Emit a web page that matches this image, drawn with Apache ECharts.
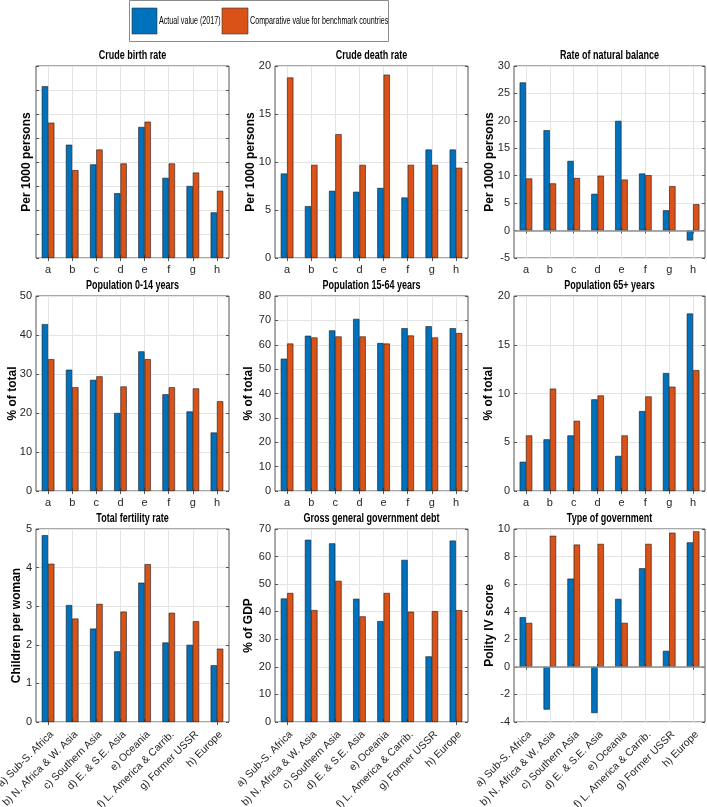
<!DOCTYPE html>
<html>
<head>
<meta charset="utf-8">
<script src="https://cdn.jsdelivr.net/npm/echarts@6/dist/echarts.min.js"></script>
<style>html,body{margin:0;padding:0;background:#fff;}#chart{width:707px;height:807px;}</style>
</head>
<body>
<div id="chart"></div>
<script>
// ---- Data ----
const shortCategories = ['a','b','c','d','e','f','g','h'];
const longCategories = ['a) Sub-S. Africa','b) N. Africa & W. Asia','c) Southern Asia','d) E. & S.E. Asia','e) Oceania','f) L. America & Carrib.','g) Former USSR','h) Europe'];
const seriesNames = ['Actual value (2017)','Comparative value for benchmark countries'];

const panelTitles = ['Crude birth rate','Crude death rate','Rate of natural balance','Population 0-14 years','Population 15-64 years','Population 65+ years','Total fertility rate','Gross general government debt','Type of government'];
const yAxisNames = ['Per 1000 persons','Per 1000 persons','Per 1000 persons','% of total','% of total','% of total','Children per woman','% of GDP','Polity IV score'];

const birthActual = [35.8,23.6,19.5,13.5,27.3,16.7,15.0,9.5];
const birthBench = [28.2,18.3,22.6,19.7,28.4,19.7,17.8,14.0];
const deathActual = [8.8,5.4,7.0,6.9,7.3,6.3,11.3,11.3];
const deathBench = [18.8,9.7,12.9,9.7,19.1,9.7,9.7,9.4];
const naturalActual = [27.0,18.3,12.7,6.7,20.0,10.4,3.7,-1.8];
const naturalBench = [9.5,8.6,9.6,10.0,9.3,10.1,8.1,4.8];
const pop014Actual = [42.8,31.1,28.5,20.0,35.8,24.8,20.4,15.0];
const pop014Bench = [33.8,26.6,29.4,26.8,33.8,26.6,26.3,23.0];
const pop1564Actual = [54.3,63.7,65.9,70.6,60.7,66.8,67.6,66.8];
const pop1564Bench = [60.5,63.0,63.4,63.4,60.5,63.8,63.0,64.8];
const pop65Actual = [3.0,5.3,5.7,9.4,3.6,8.2,12.1,18.2];
const pop65Bench = [5.7,10.5,7.2,9.8,5.7,9.7,10.7,12.4];
const fertilityActual = [4.84,3.03,2.42,1.83,3.61,2.06,2.0,1.47];
const fertilityBench = [4.10,2.68,3.06,2.86,4.09,2.83,2.61,1.90];
const debtActual = [44.8,66.1,64.8,44.7,36.6,58.8,23.8,65.8];
const debtBench = [46.8,40.6,51.2,38.3,46.8,40.0,40.2,40.6];
const govActual = [3.6,-3.1,6.4,-3.35,4.93,7.15,1.16,9.03];
const govBench = [3.19,9.51,8.87,8.92,3.19,8.92,9.73,9.83];

// y-axis ranges: [min, max, interval]
const yRanges = [[0,40,5],[0,20,5],[-5,30,5],[0,50,10],[0,80,10],[0,20,5],[0,5,1],[0,70,10],[-4,10,2]];
const showYLabels = [false,true,true,true,true,true,true,true,true];
const actualValues = [birthActual,deathActual,naturalActual,pop014Actual,pop1564Actual,pop65Actual,fertilityActual,debtActual,govActual];
const benchValues = [birthBench,deathBench,naturalBench,pop014Bench,pop1564Bench,pop65Bench,fertilityBench,debtBench,govBench];

// ---- Layout ----
const colLeft = [36,275,514], colWidth = [193,193,191];
const rowTop = [66,296,529], rowHeight = [192,195,193];
const nameGaps = [3,18,18,17,20,19,13,20,18];
const blue = '#0072BD', orange = '#D95319';
const axisColor = '#555', gridColor = '#e4e4e4', textColor = '#262626';
const sans = '"Liberation Sans", Arial, Helvetica, sans-serif';

const grid = [], xAxis = [], yAxis = [], series = [], graphics = [];
for (let i = 0; i < 9; i++) {
  const r = Math.floor(i / 3), c = i % 3;
  const left = colLeft[c], top = rowTop[r], w = colWidth[c], h = rowHeight[r];
  grid.push({left: left, top: top, width: w, height: h, show: true, borderColor: axisColor, borderWidth: 1,
    backgroundColor: 'transparent', containLabel: false, outerBoundsMode: 'none'});
  graphics.push({type: 'text', x: left + w / 2, y: top - 10, scaleX: 0.72, silent: true,
    style: {text: panelTitles[i], x: 0, y: 0, textAlign: 'center', textVerticalAlign: 'middle',
      fontSize: 12.5, fontWeight: 'bold', fontFamily: 'Liberation Sans', fill: '#000'}});
  const cats = r < 2 ? shortCategories : longCategories;
  const xLabel = r < 2
    ? {interval: 0, fontFamily: sans, fontSize: 11, color: textColor, margin: 6}
    : {interval: 0, fontFamily: sans, fontSize: 10.5, color: textColor, margin: 7, rotate: 45, verticalAlign: 'top'};
  xAxis.push({type: 'category', gridIndex: i, data: cats, position: 'bottom',
    axisLine: {show: false},
    axisTick: {show: true, inside: true, alignWithLabel: true, length: 3, lineStyle: {color: axisColor}},
    axisLabel: xLabel,
    splitLine: {show: true, alignWithLabel: true, lineStyle: {color: gridColor}}});
  xAxis.push({type: 'category', gridIndex: i, data: cats, position: 'top',
    axisLine: {show: false}, axisLabel: {show: false}, splitLine: {show: false},
    axisTick: {show: true, inside: true, alignWithLabel: true, length: 3, lineStyle: {color: axisColor}}});
  const yr = yRanges[i];
  yAxis.push({type: 'value', gridIndex: i, min: yr[0], max: yr[1], interval: yr[2], position: 'left',
    name: yAxisNames[i], nameLocation: 'middle', nameGap: nameGaps[i], nameMoveOverlap: false,
    nameTextStyle: {fontFamily: sans, fontWeight: 'bold', fontSize: 12, color: '#000'},
    axisLine: {show: false},
    axisTick: {show: true, inside: true, length: 3, lineStyle: {color: axisColor}},
    axisLabel: {show: showYLabels[i], fontFamily: sans, fontSize: 11, color: textColor, margin: 4},
    splitLine: {show: true, lineStyle: {color: gridColor}}});
  yAxis.push({type: 'value', gridIndex: i, min: yr[0], max: yr[1], interval: yr[2], position: 'right',
    axisLine: {show: false}, axisLabel: {show: false}, splitLine: {show: false},
    axisTick: {show: true, inside: true, length: 3, lineStyle: {color: axisColor}}});
  const hasNeg = yr[0] < 0;
  series.push({type: 'bar', name: seriesNames[0], xAxisIndex: 2 * i, yAxisIndex: 2 * i, data: actualValues[i],
    barWidth: 6.3, barGap: '0%',
    itemStyle: {color: blue, borderColor: '#1a1a1a', borderWidth: 0.6},
    markLine: hasNeg ? {silent: true, symbol: 'none', label: {show: false},
      lineStyle: {color: '#8f8f8f', width: 1.5, type: 'solid'}, data: [{yAxis: 0}]} : undefined});
  series.push({type: 'bar', name: seriesNames[1], xAxisIndex: 2 * i, yAxisIndex: 2 * i, data: benchValues[i],
    barWidth: 6.3, barGap: '0%',
    itemStyle: {color: orange, borderColor: '#1a1a1a', borderWidth: 0.6}});
}

// ---- Legend box (MATLAB style) ----
graphics.push({type: 'rect', silent: true, shape: {x: 129.5, y: 0.5, width: 259, height: 41},
  style: {fill: '#fff', stroke: '#8a8a8a', lineWidth: 1}, z: 10});
graphics.push({type: 'rect', silent: true, shape: {x: 132, y: 8, width: 25, height: 26},
  style: {fill: blue, stroke: '#333', lineWidth: 0.6}, z: 11});
graphics.push({type: 'text', silent: true, x: 159, y: 21, scaleX: 0.65, z: 11,
  style: {text: seriesNames[0], x: 0, y: 0, textAlign: 'left', textVerticalAlign: 'middle',
    fontSize: 11, fontFamily: 'Liberation Sans', fill: '#000'}});
graphics.push({type: 'rect', silent: true, shape: {x: 222, y: 8, width: 26, height: 26},
  style: {fill: orange, stroke: '#333', lineWidth: 0.6}, z: 11});
graphics.push({type: 'text', silent: true, x: 250, y: 21, scaleX: 0.65, z: 11,
  style: {text: seriesNames[1], x: 0, y: 0, textAlign: 'left', textVerticalAlign: 'middle',
    fontSize: 11, fontFamily: 'Liberation Sans', fill: '#000'}});

const chart = echarts.init(document.getElementById('chart'), null, {renderer: 'canvas'});
chart.setOption({
  animation: false,
  backgroundColor: '#fff',
  grid: grid, xAxis: xAxis, yAxis: yAxis, series: series,
  graphic: {elements: graphics}
});
</script>
</body>
</html>
